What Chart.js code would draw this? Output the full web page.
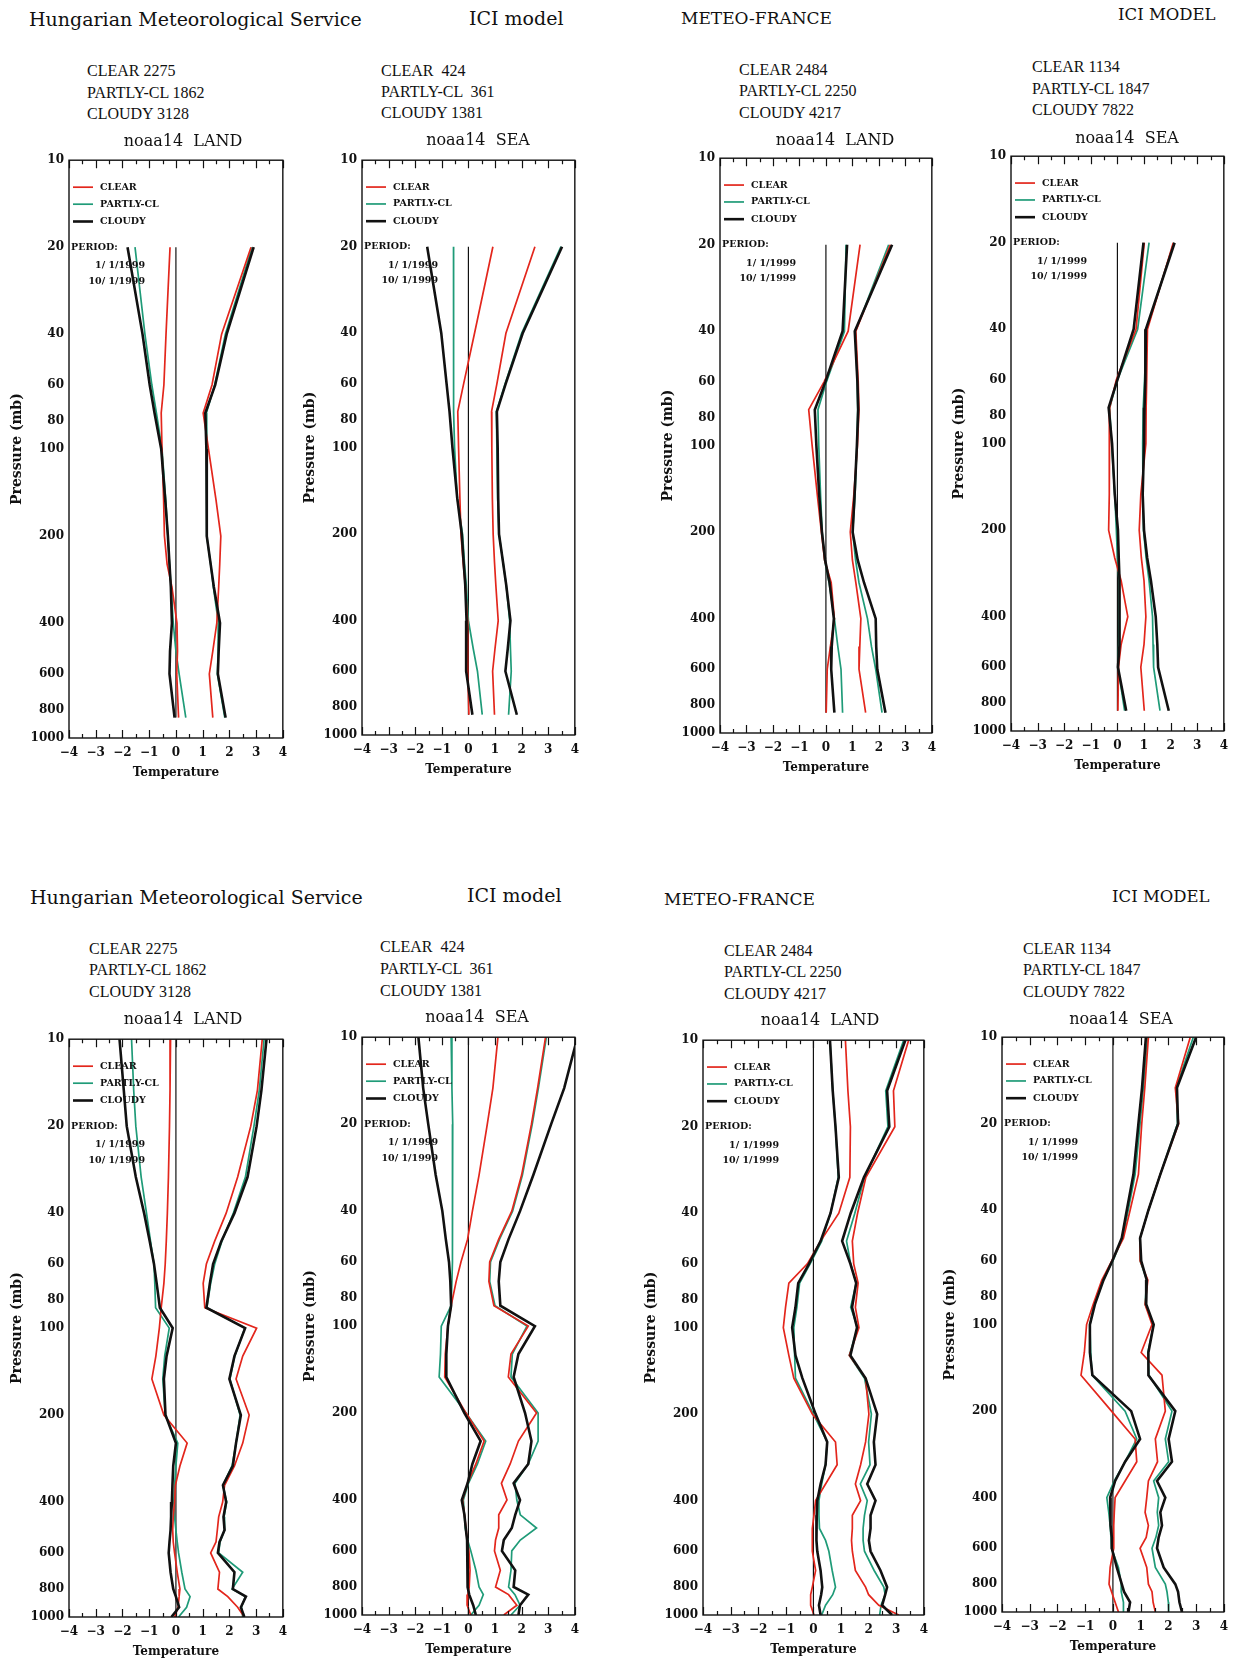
<!DOCTYPE html>
<html>
<head>
<meta charset="utf-8">
<script src="https://cdn.jsdelivr.net/npm/chart.js@4.4.1/dist/chart.umd.min.js"></script>
<style>
  body { margin: 0; background: #fff; width: 1239px; height: 1660px; position: relative; overflow: hidden; }
  .txt { position: absolute; white-space: pre; color: #111; line-height: 1.2; }
  .head { font-family: 'DejaVu Serif'; }
  .cnt { font-family: 'Liberation Serif'; font-size: 16px; }
  .ptitle { font-family: 'DejaVu Serif'; font-size: 16px; transform: translateX(-50%); }
  canvas { position: absolute; }
</style>
</head>
<body>
<script>
// pressure levels (mb)
const topLevels = [20, 40, 60, 75, 100, 150, 200, 250, 300, 400, 500, 600, 850];
const bottomLevels = [10, 15, 20, 30, 40, 50, 60, 70, 85, 100, 125, 150, 200, 250, 300, 350, 400, 450, 500, 550, 600, 700, 800, 850, 925, 1000];
const pressureTicks = [10, 20, 40, 60, 80, 100, 200, 400, 600, 800, 1000];
const categories = ['CLEAR', 'PARTLY-CL', 'CLOUDY'];

// counts per panel
const hmsLandCounts = [2275, 1862, 3128];
const hmsSeaCounts = [424, 361, 1381];
const mfLandCounts = [2484, 2250, 4217];
const mfSeaCounts = [1134, 1847, 7822];

// top row: HMS land
const p1ClearBias = [-0.22, -0.37, -0.45, -0.55, -0.52, -0.46, -0.43, -0.33, -0.15, 0.04, 0.06, 0.03, 0.1];
const p1PartlyBias = [-1.53, -1.16, -0.9, -0.73, -0.52, -0.38, -0.3, -0.24, -0.18, -0.1, 0.0, 0.12, 0.37];
const p1CloudyBias = [-1.81, -1.25, -0.98, -0.8, -0.55, -0.4, -0.3, -0.24, -0.19, -0.15, -0.22, -0.24, -0.05];
const p1ClearStd = [2.81, 1.71, 1.35, 1.02, 1.22, 1.5, 1.68, 1.64, 1.6, 1.53, 1.38, 1.25, 1.38];
const p1PartlyStd = [2.85, 1.85, 1.45, 1.14, 1.14, 1.16, 1.16, 1.3, 1.4, 1.59, 1.58, 1.55, 1.83];
const p1CloudyStd = [2.91, 1.9, 1.47, 1.1, 1.14, 1.15, 1.16, 1.3, 1.42, 1.65, 1.6, 1.57, 1.86];

// top row: HMS sea
const p2ClearBias = [0.92, 0.23, -0.18, -0.4, -0.37, -0.32, -0.28, -0.2, -0.12, -0.03, -0.02, -0.03, 0.02];
const p2PartlyBias = [-0.56, -0.56, -0.56, -0.55, -0.52, -0.42, -0.22, -0.15, -0.08, 0.0, 0.18, 0.34, 0.52];
const p2CloudyBias = [-1.55, -1.02, -0.82, -0.71, -0.6, -0.42, -0.25, -0.18, -0.12, -0.07, -0.08, -0.09, 0.15];
const p2ClearStd = [2.5, 1.41, 1.07, 0.87, 0.88, 0.9, 0.93, 0.98, 1.03, 1.12, 1.0, 0.91, 0.98];
const p2PartlyStd = [3.48, 2.0, 1.38, 1.05, 1.07, 1.1, 1.15, 1.3, 1.42, 1.55, 1.58, 1.61, 1.51];
const p2CloudyStd = [3.52, 2.04, 1.4, 1.07, 1.1, 1.12, 1.15, 1.3, 1.42, 1.58, 1.48, 1.39, 1.82];

// top row: Meteo-France land
const p3ClearBias = [1.29, 0.84, -0.07, -0.65, -0.52, -0.32, -0.17, -0.05, 0.2, 0.32, 0.17, 0.05, 0.01];
const p3PartlyBias = [0.76, 0.7, 0.02, -0.3, -0.27, -0.2, -0.14, -0.05, 0.12, 0.32, 0.45, 0.57, 0.63];
const p3CloudyBias = [0.8, 0.63, -0.02, -0.42, -0.36, -0.25, -0.15, -0.03, 0.14, 0.3, 0.22, 0.2, 0.32];
const p3ClearStd = [2.43, 1.13, 1.22, 1.25, 1.19, 1.05, 0.92, 1.0, 1.13, 1.32, 1.28, 1.25, 1.5];
const p3PartlyStd = [2.37, 1.12, 1.18, 1.2, 1.17, 1.1, 1.01, 1.12, 1.25, 1.57, 1.72, 1.88, 2.12];
const p3CloudyStd = [2.5, 1.09, 1.19, 1.22, 1.17, 1.08, 1.01, 1.2, 1.44, 1.88, 1.9, 1.94, 2.25];

// top row: Meteo-France sea
const p4ClearBias = [1.01, 0.7, -0.04, -0.29, -0.3, -0.31, -0.33, -0.1, 0.14, 0.39, 0.14, 0.04, 0.02];
const p4PartlyBias = [1.19, 0.76, 0.0, -0.29, -0.22, -0.1, -0.04, 0.0, 0.06, 0.06, 0.05, 0.02, 0.27];
const p4CloudyBias = [0.98, 0.61, 0.0, -0.33, -0.2, -0.1, 0.02, 0.05, 0.08, 0.08, 0.08, 0.02, 0.33];
const p4ClearStd = [2.1, 1.13, 1.1, 1.08, 1.07, 0.88, 0.82, 0.9, 1.0, 1.07, 1.0, 0.88, 1.01];
const p4PartlyStd = [2.12, 1.1, 1.02, 0.97, 0.95, 0.96, 0.98, 1.08, 1.19, 1.32, 1.34, 1.36, 1.6];
const p4CloudyStd = [2.15, 1.07, 1.05, 1.02, 1.0, 0.95, 1.0, 1.12, 1.26, 1.44, 1.5, 1.53, 1.93];

// bottom row: HMS land
const p5ClearBias = [-0.2, -0.22, -0.24, -0.28, -0.32, -0.36, -0.4, -0.45, -0.55, -0.62, -0.75, -0.9, -0.45, 0.42, 0.15, -0.02, -0.05, -0.1, -0.12, -0.1, -0.05, 0.05, 0.15, 0.12, 0.08, -0.05];
const p5PartlyBias = [-1.66, -1.58, -1.5, -1.3, -1.1, -0.95, -0.82, -0.79, -0.76, -0.25, -0.42, -0.49, -0.4, 0.07, 0.0, -0.05, -0.08, -0.05, 0.0, 0.05, 0.1, 0.22, 0.34, 0.53, 0.4, 0.1];
const p5CloudyBias = [-2.11, -1.95, -1.84, -1.5, -1.19, -0.98, -0.82, -0.72, -0.6, -0.12, -0.35, -0.45, -0.39, 0.0, -0.1, -0.13, -0.15, -0.18, -0.2, -0.24, -0.27, -0.2, -0.1, 0.0, 0.12, -0.17];
const p5ClearStd = [3.23, 3.05, 2.8, 2.31, 1.88, 1.45, 1.14, 1.02, 1.08, 3.02, 2.5, 2.25, 2.74, 2.5, 2.19, 1.82, 1.75, 1.6, 1.55, 1.5, 1.3, 1.63, 1.57, 1.94, 2.31, 2.56];
const p5PartlyStd = [3.3, 3.12, 2.92, 2.6, 2.15, 1.72, 1.45, 1.3, 1.16, 2.58, 2.2, 2.02, 2.4, 2.25, 2.1, 1.76, 1.9, 1.8, 1.82, 1.65, 1.6, 2.5, 2.1, 2.6, 2.45, 2.5];
const p5CloudyStd = [3.39, 3.2, 3.02, 2.68, 2.19, 1.7, 1.39, 1.27, 1.14, 2.59, 2.19, 2.0, 2.43, 2.25, 2.13, 1.76, 1.88, 1.78, 1.82, 1.63, 1.57, 2.19, 2.13, 2.62, 2.43, 2.56];

// bottom row: HMS sea
const p6ClearBias = [1.11, 0.92, 0.71, 0.4, 0.15, -0.03, -0.28, -0.46, -0.65, -0.77, -0.87, -0.89, -0.09, 0.59, 0.28, -0.03, -0.22, -0.15, -0.09, -0.05, 0.02, 0.06, 0.03, -0.02, -0.05, 0.09];
const p6PartlyBias = [-0.65, -0.62, -0.59, -0.6, -0.6, -0.6, -0.6, -0.62, -0.65, -1.02, -1.05, -1.1, -0.09, 0.65, 0.34, 0.0, -0.19, -0.15, -0.12, -0.03, 0.09, 0.28, 0.4, 0.56, 0.4, 0.09];
const p6CloudyBias = [-1.88, -1.7, -1.51, -1.23, -0.98, -0.85, -0.73, -0.68, -0.65, -0.77, -0.83, -0.83, -0.15, 0.46, 0.15, -0.03, -0.25, -0.15, -0.1, -0.05, -0.05, -0.02, -0.02, 0.03, 0.18, 0.28];
const p6ClearStd = [2.9, 2.6, 2.37, 2.0, 1.63, 1.14, 0.8, 0.77, 0.96, 2.25, 1.6, 1.5, 2.56, 1.88, 1.57, 1.24, 1.45, 1.14, 1.14, 1.02, 0.98, 1.2, 1.02, 1.51, 1.82, 1.33];
const p6PartlyStd = [2.93, 2.63, 2.4, 2.03, 1.66, 1.17, 0.83, 0.8, 1.0, 2.2, 1.65, 1.6, 2.62, 2.62, 2.25, 1.75, 1.82, 1.95, 2.56, 1.95, 1.63, 1.6, 1.51, 1.75, 1.94, 1.6];
const p6CloudyStd = [4.1, 3.6, 3.11, 2.44, 1.94, 1.51, 1.2, 1.14, 1.2, 2.5, 1.88, 1.7, 2.13, 2.37, 2.25, 1.7, 1.94, 1.76, 1.63, 1.33, 1.26, 1.76, 1.7, 2.25, 1.94, 1.88];

// bottom row: Meteo-France land
const p7ClearBias = [1.16, 1.25, 1.34, 1.32, 0.92, 0.26, -0.22, -0.89, -1.01, -1.09, -0.89, -0.71, -0.04, 0.8, 0.86, 0.44, 0.08, 0.02, -0.04, -0.04, -0.04, 0.08, -0.04, -0.1, -0.1, 0.02];
const p7PartlyBias = [0.6, 0.7, 0.8, 0.9, 0.62, 0.3, -0.12, -0.5, -0.6, -0.71, -0.68, -0.65, 0.0, 0.5, 0.44, 0.3, 0.2, 0.2, 0.22, 0.44, 0.56, 0.68, 0.8, 0.7, 0.44, 0.3];
const p7CloudyBias = [0.6, 0.7, 0.8, 0.92, 0.62, 0.26, -0.16, -0.55, -0.65, -0.77, -0.65, -0.4, 0.08, 0.5, 0.44, 0.26, 0.14, 0.12, 0.1, 0.12, 0.14, 0.26, 0.32, 0.28, 0.2, 0.26];
const p7ClearStd = [3.45, 2.9, 2.95, 1.9, 1.6, 1.41, 1.46, 1.62, 1.52, 1.65, 1.3, 1.89, 2.01, 1.89, 1.71, 1.52, 1.71, 1.41, 1.41, 1.38, 1.41, 1.52, 1.89, 2.0, 2.37, 3.09];
const p7PartlyStd = [3.27, 2.62, 2.7, 1.85, 1.5, 1.2, 1.35, 1.55, 1.35, 1.6, 1.3, 1.85, 2.1, 2.0, 2.05, 1.7, 1.95, 1.85, 1.8, 1.8, 1.85, 2.2, 2.55, 2.6, 2.45, 2.4];
const p7CloudyStd = [3.33, 2.67, 2.75, 1.83, 1.35, 1.04, 1.34, 1.55, 1.4, 1.58, 1.34, 1.89, 2.31, 2.19, 2.25, 1.95, 2.25, 2.07, 2.07, 2.01, 2.07, 2.43, 2.67, 2.6, 2.49, 2.85];

// bottom row: Meteo-France sea
const p8ClearBias = [1.28, 1.15, 1.04, 0.92, 0.62, 0.38, -0.04, -0.4, -0.71, -0.95, -1.03, -1.15, -0.05, 0.8, 0.86, 0.44, 0.08, 0.05, 0.03, 0.03, 0.03, -0.1, -0.14, -0.05, 0.08, 0.2];
const p8PartlyBias = [1.25, 1.1, 0.98, 0.8, 0.55, 0.35, 0.0, -0.36, -0.68, -0.83, -0.8, -0.75, 0.44, 0.86, 0.44, 0.05, -0.22, -0.15, -0.1, -0.07, -0.05, 0.2, 0.3, 0.3, 0.38, 0.38];
const p8CloudyBias = [1.19, 1.05, 0.92, 0.74, 0.5, 0.32, -0.02, -0.34, -0.65, -0.83, -0.83, -0.74, 0.66, 0.98, 0.44, 0.08, -0.1, -0.1, -0.07, -0.04, -0.04, 0.14, 0.32, 0.4, 0.62, 0.56];
const p8ClearStd = [2.79, 2.25, 2.37, 1.71, 1.28, 0.98, 0.98, 1.26, 1.16, 1.41, 1.02, 1.77, 1.89, 1.53, 1.61, 1.28, 1.22, 1.16, 1.28, 1.2, 0.98, 1.22, 1.28, 1.41, 1.45, 1.53];
const p8PartlyStd = [2.9, 2.28, 2.33, 1.71, 1.28, 0.98, 0.98, 1.22, 1.16, 1.47, 1.26, 1.3, 2.13, 1.89, 2.01, 1.47, 1.65, 1.6, 1.65, 1.55, 1.41, 1.53, 1.89, 1.95, 2.0, 2.01];
const p8CloudyStd = [3.0, 2.31, 2.35, 1.71, 1.28, 0.98, 1.02, 1.22, 1.2, 1.47, 1.28, 1.28, 2.25, 2.01, 2.13, 1.59, 1.89, 1.71, 1.77, 1.65, 1.59, 1.83, 2.25, 2.35, 2.4, 2.49];

const colors = ['#e3261c', '#1f9b78', '#111111'];
const widths = [1.7, 1.7, 2.6];

Chart.defaults.font.family = "'DejaVu Serif'";
Chart.defaults.color = '#111';

function put(text, cls, x, cy, size) {
  const d = document.createElement('div');
  d.className = 'txt ' + cls;
  d.textContent = text;
  d.style.left = x + 'px';
  d.style.top = (cy - size * 0.6) + 'px';
  d.style.fontSize = size + 'px';
  document.body.appendChild(d);
}

// frame, inward ticks, in-plot legend and period note
const decor = {
  id: 'decor',
  afterDatasetsDraw(chart) {
    const { ctx, chartArea: a, scales: { x, y } } = chart;
    ctx.save();
    ctx.strokeStyle = '#111';
    ctx.lineWidth = 1.4;
    ctx.strokeRect(a.left, a.top, a.right - a.left, a.bottom - a.top);
    ctx.lineWidth = 1.2;
    for (let v = -4; v <= 4; v += 0.5) {
      const px = Math.round(x.getPixelForValue(v)) + 0.5;
      const len = Number.isInteger(v) ? 8 : 4;
      ctx.beginPath();
      ctx.moveTo(px, a.bottom); ctx.lineTo(px, a.bottom - len);
      ctx.moveTo(px, a.top); ctx.lineTo(px, a.top + len);
      ctx.stroke();
    }
    ctx.font = "bold 9.5px 'DejaVu Serif'";
    ctx.textBaseline = 'middle';
    ctx.fillStyle = '#111';
    [12.4, 14.2, 16.3].forEach((p, i) => {
      const py = y.getPixelForValue(p);
      ctx.strokeStyle = colors[i];
      ctx.lineWidth = widths[i];
      ctx.beginPath(); ctx.moveTo(a.left + 4, py); ctx.lineTo(a.left + 24, py); ctx.stroke();
      ctx.fillText(categories[i], a.left + 31, py);
    });
    ctx.fillText('PERIOD:', a.left + 2, y.getPixelForValue(20));
    ctx.textAlign = 'right';
    ctx.fillText('1/ 1/1999', a.left + 76, y.getPixelForValue(23.2));
    ctx.fillText('10/ 1/1999', a.left + 76, y.getPixelForValue(26.3));
    ctx.restore();
  }
};

function makePanel(p) {
  const [l, t, r, b] = p.box;
  const padL = 60, padT = 8, padR = 10, padB = 42;
  const cv = document.createElement('canvas');
  cv.width = r - l + padL + padR;
  cv.height = b - t + padT + padB;
  cv.style.left = (l - padL) + 'px';
  cv.style.top = (t - padT) + 'px';
  document.body.appendChild(cv);

  const pts = vals => vals.map((v, i) => ({ x: v, y: p.levels[i] }));
  const line = (vals, ci, order) => ({
    data: pts(vals), borderColor: colors[ci], borderWidth: widths[ci],
    pointRadius: 0, tension: 0, fill: false, order
  });
  const lv = p.levels;
  const datasets = [
    { data: [{ x: 0, y: lv[0] }, { x: 0, y: lv[lv.length - 1] }], borderColor: '#111', borderWidth: 1.2, pointRadius: 0, order: 5 },
    line(p.s[1], 1, 3), line(p.s[4], 1, 3),
    line(p.s[0], 0, 2), line(p.s[3], 0, 2),
    line(p.s[2], 2, 1), line(p.s[5], 2, 1)
  ];

  const tickFont = { family: 'DejaVu Serif', weight: 'bold', size: 12 };
  new Chart(cv, {
    type: 'line',
    data: { datasets },
    options: {
      responsive: false,
      animation: false,
      devicePixelRatio: 1,
      layout: { padding: { left: 0, right: padR, top: padT, bottom: 0 } },
      plugins: { legend: { display: false }, tooltip: { enabled: false } },
      scales: {
        x: {
          type: 'linear', min: -4, max: 4,
          grid: { display: false, drawTicks: false },
          border: { display: false },
          ticks: { stepSize: 1, padding: 8, font: tickFont, callback: v => (v < 0 ? '\u2212' + Math.abs(v) : String(v)) },
          title: { display: true, text: 'Temperature', padding: 0, font: { family: 'DejaVu Serif', weight: 'bold', size: 12 } },
          afterFit: s => { s.height = padB; }
        },
        y: {
          type: 'logarithmic', reverse: true, min: 10, max: 1000,
          grid: { display: false, drawTicks: false },
          border: { display: false },
          afterBuildTicks: s => { s.ticks = pressureTicks.map(v => ({ value: v })); },
          ticks: { padding: 5, autoSkip: false, callback: v => String(v), font: tickFont },
          title: { display: true, text: 'Pressure (mb)', padding: 0, font: { family: 'DejaVu Serif', weight: 'bold', size: 14 } },
          afterFit: s => { s.width = padL; }
        }
      }
    },
    plugins: [decor]
  });

  const pad = n => String(n).padStart(4, ' ');
  categories.forEach((c, i) => {
    put(c + ' ' + pad(p.counts[i]), 'cnt', p.countPos[0], p.countPos[1][i], 16);
  });
  put('noaa14  ' + p.kind, 'ptitle', p.titlePos[0], p.titlePos[1], 16);
}

const panels = [
  { box: [69, 156, 285, 738], levels: topLevels, s: [p1ClearBias, p1PartlyBias, p1CloudyBias, p1ClearStd, p1PartlyStd, p1CloudyStd],
    counts: hmsLandCounts, kind: 'LAND', countPos: [87, [71, 93, 114]], titlePos: [183, 141] },
  { box: [362, 156, 577, 735], levels: topLevels, s: [p2ClearBias, p2PartlyBias, p2CloudyBias, p2ClearStd, p2PartlyStd, p2CloudyStd],
    counts: hmsSeaCounts, kind: 'SEA', countPos: [381, [71, 92, 113]], titlePos: [478, 140] },
  { box: [720, 154, 934, 733], levels: topLevels, s: [p3ClearBias, p3PartlyBias, p3CloudyBias, p3ClearStd, p3PartlyStd, p3CloudyStd],
    counts: mfLandCounts, kind: 'LAND', countPos: [739, [70, 91, 113]], titlePos: [835, 140] },
  { box: [1011, 152, 1226, 731], levels: topLevels, s: [p4ClearBias, p4PartlyBias, p4CloudyBias, p4ClearStd, p4PartlyStd, p4CloudyStd],
    counts: mfSeaCounts, kind: 'SEA', countPos: [1032, [67, 89, 110]], titlePos: [1127, 138] },
  { box: [69, 1035, 285, 1617], levels: bottomLevels, s: [p5ClearBias, p5PartlyBias, p5CloudyBias, p5ClearStd, p5PartlyStd, p5CloudyStd],
    counts: hmsLandCounts, kind: 'LAND', countPos: [89, [949, 970, 992]], titlePos: [183, 1019] },
  { box: [362, 1033, 577, 1615], levels: bottomLevels, s: [p6ClearBias, p6PartlyBias, p6CloudyBias, p6ClearStd, p6PartlyStd, p6CloudyStd],
    counts: hmsSeaCounts, kind: 'SEA', countPos: [380, [947, 969, 991]], titlePos: [477, 1017] },
  { box: [703, 1036, 926, 1615], levels: bottomLevels, s: [p7ClearBias, p7PartlyBias, p7CloudyBias, p7ClearStd, p7PartlyStd, p7CloudyStd],
    counts: mfLandCounts, kind: 'LAND', countPos: [724, [951, 972, 994]], titlePos: [820, 1020] },
  { box: [1002, 1033, 1226, 1612], levels: bottomLevels, s: [p8ClearBias, p8PartlyBias, p8CloudyBias, p8ClearStd, p8PartlyStd, p8CloudyStd],
    counts: mfSeaCounts, kind: 'SEA', countPos: [1023, [949, 970, 992]], titlePos: [1121, 1019] }
];
panels.forEach(makePanel);

// row headers
put('Hungarian Meteorological Service', 'head', 29, 19, 19);
put('ICI model', 'head', 469, 18, 19);
put('METEO-FRANCE', 'head', 681, 18, 17);
put('ICI MODEL', 'head', 1118, 15, 16.5);
put('Hungarian Meteorological Service', 'head', 30, 897, 19);
put('ICI model', 'head', 467, 895, 19);
put('METEO-FRANCE', 'head', 664, 899, 17);
put('ICI MODEL', 'head', 1112, 897, 16.5);
</script>
</body>
</html>
